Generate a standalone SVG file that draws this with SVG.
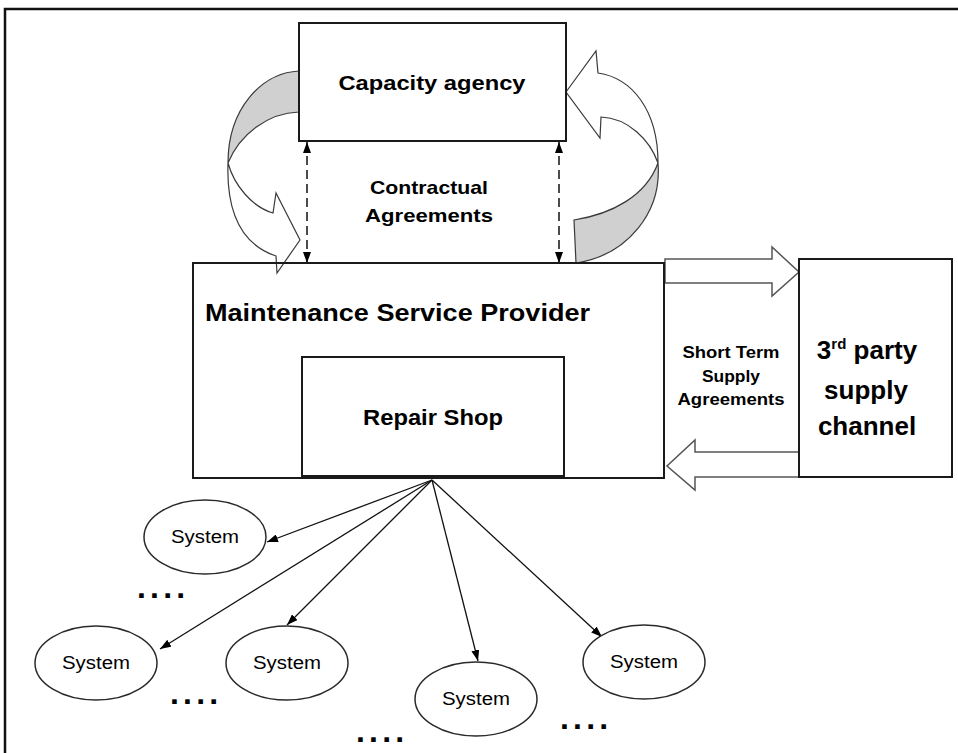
<svg xmlns="http://www.w3.org/2000/svg" width="958" height="753" viewBox="0 0 958 753">
  <style>
    .box { fill: #fff; stroke: #1a1a1a; stroke-width: 2; }
    .open { fill: none; stroke: #1a1a1a; stroke-width: 2; }
    .sys { fill: #fff; stroke: #2a2a2a; stroke-width: 1.5; }
    .ribbon { fill: #fff; stroke: #3a3a3a; stroke-width: 1.2; stroke-linejoin: miter; }
    .ribbon-back { fill: #d0d0d0; stroke: #3a3a3a; stroke-width: 1.2; }
    .block { fill: #fff; stroke: #555; stroke-width: 1.5; }
    .dash { fill: none; stroke: #111; stroke-width: 1.5; stroke-dasharray: 9 5; }
    .link { fill: none; stroke: #111; stroke-width: 1.3; }
    .b { font-family: "Liberation Sans", Arial, sans-serif; font-weight: bold; fill: #000; }
    .r { font-family: "Liberation Sans", Arial, sans-serif; fill: #000; }
    .c { text-anchor: middle; }
  </style>
  <defs>
    <marker id="head" viewBox="0 0 11 8" refX="11" refY="4" markerWidth="11" markerHeight="8" markerUnits="userSpaceOnUse" orient="auto-start-reverse">
      <path d="M0,0 L11,4 L0,8 Z" fill="#000"/>
    </marker>
  </defs>

  <rect width="958" height="753" fill="#fff"/>
  <!-- outer frame (continues past the right and bottom edges) -->
  <path d="M5,753 L5,9 L958,9" fill="none" stroke="#111" stroke-width="2.5"/>

  <g id="connectors">
    <!-- left curved ribbon arrow: capacity agency to provider -->
    <path class="ribbon-back" d="M299,71 C262,73 228,108 228,163 C240,134 268,113 299,112 Z"/>
    <path class="ribbon" d="M228,163 C234,185 252,207 273,213 L276,193 L300,240 L277,273 L276,256 C246,246 226,220 228,163 Z"/>
    <!-- right curved ribbon arrow: provider back to capacity agency -->
    <path class="ribbon-back" d="M658,163 C662,212 628,255 576,263 L574,220 C612,214 646,196 658,163 Z"/>
    <path class="ribbon" d="M566,92 L596,51 L598,73 C632,78 658,110 658,163 C650,140 628,118 601,117 L600,138 Z"/>

    <!-- contractual agreements (two-way dashed) -->
    <line class="dash" x1="307" y1="142" x2="307" y2="263" marker-start="url(#head)" marker-end="url(#head)"/>
    <line class="dash" x1="559" y1="142" x2="559" y2="263" marker-start="url(#head)" marker-end="url(#head)"/>

    <!-- short term supply block arrows -->
    <path class="block" d="M665,259 L772,259 L772,247 L799,272 L772,296 L772,283 L665,283 Z"/>
    <path class="block" d="M799,452 L695,452 L695,440 L667,466 L695,490 L695,477 L799,477 Z"/>

    <!-- repair shop to systems -->
    <line class="link" x1="432" y1="480" x2="267" y2="542" marker-end="url(#head)"/>
    <line class="link" x1="432" y1="480" x2="160" y2="649" marker-end="url(#head)"/>
    <line class="link" x1="432" y1="480" x2="287" y2="625" marker-end="url(#head)"/>
    <line class="link" x1="432" y1="480" x2="478" y2="661" marker-end="url(#head)"/>
    <line class="link" x1="432" y1="480" x2="602" y2="637" marker-end="url(#head)"/>
  </g>

  <g id="capacity-agency">
    <rect class="box" x="299" y="23" width="267" height="118"/>
    <text class="b c" x="432" y="90" font-size="21" textLength="187" lengthAdjust="spacingAndGlyphs">Capacity agency</text>
  </g>

  <g id="contract-label">
    <text class="b c" x="429" y="194" font-size="19" textLength="118" lengthAdjust="spacingAndGlyphs">Contractual</text>
    <text class="b c" x="429" y="222" font-size="19" textLength="128" lengthAdjust="spacingAndGlyphs">Agreements</text>
  </g>

  <g id="maintenance-service-provider">
    <rect class="open" x="193" y="263" width="471" height="215"/>
    <text class="b" x="205" y="321" font-size="24" textLength="385" lengthAdjust="spacingAndGlyphs">Maintenance Service Provider</text>
  </g>

  <g id="repair-shop">
    <rect class="open" x="302" y="357" width="262" height="119"/>
    <text class="b c" x="433" y="425" font-size="22" textLength="140" lengthAdjust="spacingAndGlyphs">Repair Shop</text>
  </g>

  <g id="third-party-supply-channel">
    <rect class="box" x="799" y="259" width="153" height="218"/>
    <text class="b c" x="867" y="359" font-size="26">3<tspan font-size="15" dy="-10">rd</tspan><tspan dy="10"> party</tspan></text>
    <text class="b c" x="866" y="399" font-size="26">supply</text>
    <text class="b c" x="867" y="435" font-size="26">channel</text>
  </g>

  <g id="supply-label">
    <text class="b c" x="731" y="358" font-size="16" textLength="97" lengthAdjust="spacingAndGlyphs">Short Term</text>
    <text class="b c" x="731" y="382" font-size="16" textLength="58" lengthAdjust="spacingAndGlyphs">Supply</text>
    <text class="b c" x="731" y="405" font-size="16" textLength="107" lengthAdjust="spacingAndGlyphs">Agreements</text>
  </g>

  <g id="system-1">
    <ellipse class="sys" cx="205" cy="537" rx="61" ry="37"/>
    <text class="r c" x="205" y="543" font-size="18" textLength="68" lengthAdjust="spacingAndGlyphs">System</text>
  </g>
  <g id="system-2">
    <ellipse class="sys" cx="96" cy="663" rx="61" ry="37"/>
    <text class="r c" x="96" y="669" font-size="18" textLength="68" lengthAdjust="spacingAndGlyphs">System</text>
  </g>
  <g id="system-3">
    <ellipse class="sys" cx="287" cy="663" rx="61" ry="37"/>
    <text class="r c" x="287" y="669" font-size="18" textLength="68" lengthAdjust="spacingAndGlyphs">System</text>
  </g>
  <g id="system-4">
    <ellipse class="sys" cx="476" cy="699" rx="61" ry="37"/>
    <text class="r c" x="476" y="705" font-size="18" textLength="68" lengthAdjust="spacingAndGlyphs">System</text>
  </g>
  <g id="system-5">
    <ellipse class="sys" cx="644" cy="662" rx="61" ry="37"/>
    <text class="r c" x="644" y="668" font-size="18" textLength="68" lengthAdjust="spacingAndGlyphs">System</text>
  </g>

  <g id="ellipsis-marks">
    <text class="b" x="137" y="598" font-size="32" letter-spacing="4.2">....</text>
    <text class="b" x="170" y="704" font-size="32" letter-spacing="4.2">....</text>
    <text class="b" x="356" y="742" font-size="32" letter-spacing="4.2">....</text>
    <text class="b" x="560" y="729" font-size="32" letter-spacing="4.2">....</text>
  </g>
</svg>
